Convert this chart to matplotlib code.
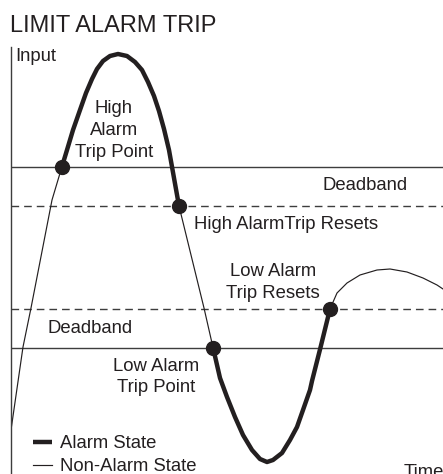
import matplotlib
matplotlib.use('Agg')
from matplotlib import pyplot as plt
from matplotlib.lines import Line2D

plt.rcParams['font.family'] = ['Liberation Sans', 'DejaVu Sans']
plt.rcParams['lines.scale_dashes'] = False

# input signal (time, input)
curve_t = [0, 12, 20, 41, 51, 56, 62, 69, 75, 81, 86, 92, 99, 107, 116, 124,
           131, 137, 143, 148, 153, 158, 168, 193, 202, 209, 216, 224,
           232, 241, 249, 256, 262, 271, 279, 286, 292, 299, 301, 309.5, 319,
           326, 336, 349, 366, 379, 396, 412, 426, 432]
curve_v = [44, 127, 166, 274, 307.5, 324, 344, 364, 381, 395, 405, 413, 418,
           420, 418, 412, 404, 392, 378, 363, 345, 324, 268, 166, 126.5,
           96, 77, 57, 39, 24, 15, 12, 14, 21, 34, 47, 64, 84, 93, 126.5, 165,
           181, 191, 199, 204, 205, 202, 196, 189, 185]

# thresholds
high_trip = 307.5
high_reset = 268
low_reset = 165.5
low_trip = 126.5

# trip / reset markers: high trip, high reset, low trip, low reset
marker_t = [51, 168, 202, 319]
marker_v = [307.5, 268, 126.5, 165]

# alarm portions run from a trip marker to its reset marker
alarm_spans = [(curve_t.index(marker_t[0]), curve_t.index(marker_t[1])),
               (curve_t.index(marker_t[2]), curve_t.index(marker_t[3]))]

ink = '#231f20'
rule = '#3d3d3d'
fs = 13.3

fig = plt.figure(figsize=(4.43, 4.74), dpi=100)
W, H = 443, 474
ax = fig.add_axes([11 / W, 0, 432 / W, 427 / H])
ax.set_xlim(0, 432)
ax.set_ylim(0, 427)
for s in ['top', 'right', 'bottom']:
    ax.spines[s].set_visible(False)
ax.spines['left'].set_color(rule)
ax.spines['left'].set_linewidth(1.0)
ax.set_xticks([])
ax.set_yticks([])

# threshold lines
for lvl in [high_trip, low_trip]:
    ax.axhline(lvl, color=rule, lw=1.0)
for lvl in [high_reset, low_reset]:
    ax.axhline(lvl, color=rule, lw=1.0, dashes=(5.5, 3.6))

# signal
ax.plot(curve_t, curve_v, color=ink, lw=0.85, solid_joinstyle='round')
for a, b in alarm_spans:
    ax.plot(curve_t[a:b + 1], curve_v[a:b + 1], color=ink, lw=3.2,
            solid_joinstyle='round', solid_capstyle='round')
ax.plot(marker_t, marker_v, 'o', color=ink, ms=10, zorder=5)

def label(x, y, lines, ha='center', step=21.5):
    for i, s in enumerate(lines):
        ax.text(x, y - i * step, s, ha=ha, va='baseline', fontsize=fs,
                color=ink, clip_on=False)

label(4, 413, ['Input'], ha='left')
label(103, 361, ['High', 'Alarm', 'Trip Point'], step=22)
label(354, 284, ['Deadband'])
label(183, 245, ['High AlarmTrip Resets'], ha='left')
label(262, 198, ['Low Alarm', 'Trip Resets'])
label(79, 141, ['Deadband'])
label(145, 103, ['Low Alarm', 'Trip Point'])
# the reference crops this label at the corner
label(393, -3, ['Time'], ha='left')

handles = [Line2D([], [], color=ink, lw=3.2, solid_capstyle='butt'),
           Line2D([], [], color=ink, lw=0.85)]
ax.legend(handles, ['Alarm State', 'Non-Alarm State'], loc='lower left',
          bbox_to_anchor=(22 / 432, -1 / 427), frameon=False, fontsize=fs,
          handlelength=1.03, handletextpad=0.43, labelspacing=0.3,
          borderpad=0, borderaxespad=0, labelcolor=ink)

fig.text(10 / W, 1 - 32 / H, 'LIMIT ALARM TRIP', fontsize=17, color=ink,
         ha='left', va='baseline')

fig.savefig('out.png', dpi=100)
